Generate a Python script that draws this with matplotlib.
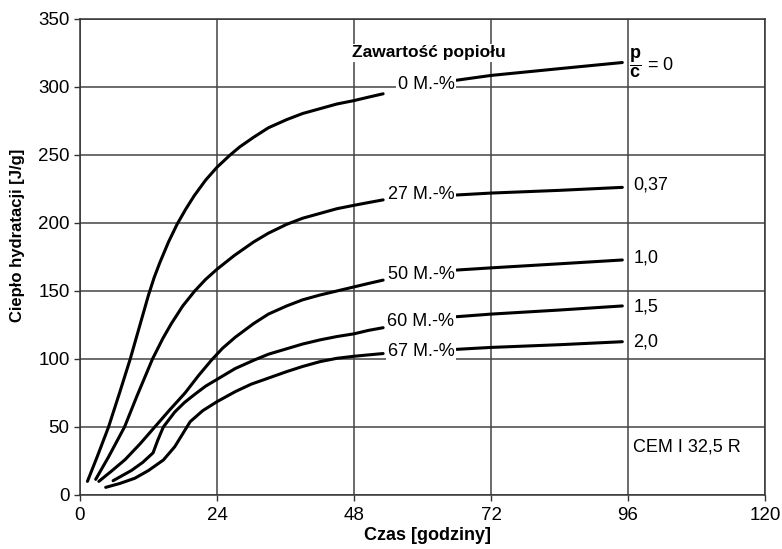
import matplotlib
matplotlib.use("Agg")
import matplotlib.pyplot as plt

plt.rcParams['font.family'] = ['Liberation Sans', 'DejaVu Sans']
plt.rcParams['mathtext.fontset'] = 'custom'
plt.rcParams['mathtext.rm'] = 'Liberation Sans'
plt.rcParams['mathtext.bf'] = 'Liberation Sans:bold'

# early part of each curve (czas [h], ciepło [J/g])
t_0 = [1.3, 3, 5, 7, 8.8, 10.5, 12, 13, 14, 15.5, 17, 18.5, 20, 22, 24, 26.3, 28,
       30.4, 33, 36.2, 39, 42, 45, 48, 50.5, 53.1]
q_0 = [10, 28, 50, 76, 100, 125, 147, 160, 171, 186, 199, 210, 220, 231.5, 241, 250, 256,
       263, 270, 276, 280.5, 284, 287.5, 290, 292.5, 295]

t_27 = [2.75, 5, 7.8, 10, 12.7, 14.5, 16, 18, 20.1, 22, 24, 27, 30.4, 33, 36.2, 39,
        42, 45, 48, 50.5, 53.1]
q_27 = [11.5, 28, 50, 73, 100, 115, 126, 139, 150, 158.5, 166, 176, 186, 192.5, 199,
        203.5, 207, 210.5, 213, 215, 217]

t_50 = [3.3, 5.5, 7.9, 10.5, 13.1, 15.7, 18.4, 20.8, 23.1, 25, 27.2, 30.4, 33, 36.2,
        39, 42, 45, 48, 50.5, 53.1]
q_50 = [10, 17.5, 26, 37.5, 50, 62.5, 75, 88, 99.5, 108, 116, 126, 133, 139,
        143.5, 147, 150, 153, 155.5, 158]

t_60 = [5.8, 9, 11, 12.8, 13.6, 14.6, 16.6, 18.3, 20.1, 22, 24, 27.2, 30.4, 33, 36.2,
        39, 42, 45, 48, 50.5, 53.1]
q_60 = [10.5, 18, 24, 31, 40, 50, 61, 68, 74, 80, 85, 93, 99, 103.5, 107.5,
        111, 114, 116.5, 118.5, 121, 123]

t_67 = [4.5, 7, 9.6, 12, 14.6, 16.6, 19.3, 21.5, 24, 27.2, 30, 32.1, 36.2, 39, 42,
        45, 48, 50.5, 53.1]
q_67 = [5.6, 8.5, 12.3, 18, 25.7, 35.5, 53.9, 62, 68.6, 76, 81.5, 84.6, 90.7, 94.5, 98,
        100.5, 102, 103, 104]

# late part (after the label)
t_late = [66, 72, 84, 95]
q_late_0 = [305, 308.5, 313.5, 318]
q_late_27 = [220.6, 222, 224, 226.2]
q_late_50 = [165.4, 167, 170, 172.8]
q_late_60 = [131.1, 133, 136, 139]
q_late_67 = [107.1, 108.5, 110.5, 112.7]

ash_labels = ['0 M.-%', '27 M.-%', '50 M.-%', '60 M.-%', '67 M.-%']
ash_label_y = [301.5, 220.6, 162, 127.5, 105.5]
pc_labels = ['0,37', '1,0', '1,5', '2,0']
pc_label_y = [228, 174, 138.5, 112.7]

x_ticks = [0, 24, 48, 72, 96, 120]
y_ticks = [0, 50, 100, 150, 200, 250, 300, 350]

fig = plt.figure(figsize=(7.82, 5.49), dpi=100)
ax = fig.add_axes([0.1023, 0.0984, 0.876, 0.867])

early = [(t_0, q_0), (t_27, q_27), (t_50, q_50), (t_60, q_60), (t_67, q_67)]
late = [q_late_0, q_late_27, q_late_50, q_late_60, q_late_67]
for (t, q), ql in zip(early, late):
    ax.plot(t, q, color='black', lw=2.2, solid_joinstyle='round',
            solid_capstyle='round', zorder=3)
    ax.plot(t_late, ql, color='black', lw=2.2, solid_joinstyle='round',
            solid_capstyle='round', zorder=3)

for lab, y in zip(ash_labels, ash_label_y):
    ax.text(65.6, y, lab, ha='right', va='center', fontsize=13, zorder=4,
            bbox=dict(facecolor='white', edgecolor='none', pad=1.0))

ax.text(47.7, 325, 'Zawartość popiołu', ha='left', va='center', fontsize=12.5,
        fontweight='bold', zorder=4,
        bbox=dict(facecolor='white', edgecolor='none', pad=1.0))
ax.text(96.2, 317.5, r'$\dfrac{\mathbf{p}}{\mathbf{c}}$' + ' = 0', ha='left',
        va='center', fontsize=13, zorder=4)

for lab, y in zip(pc_labels, pc_label_y):
    ax.text(96.9, y, lab, ha='left', va='center', fontsize=13, zorder=4)

ax.text(96.9, 35.5, 'CEM I 32,5 R', ha='left', va='center', fontsize=13, zorder=4)

ax.set_xlim(0, 120)
ax.set_ylim(0, 350)
ax.set_xticks(x_ticks)
ax.set_yticks(y_ticks)
ax.tick_params(labelsize=13.5, length=4, width=1, color='#333333')
ax.tick_params(axis='x', pad=5)
ax.grid(True, color='#444444', lw=1.1)
for s in ax.spines.values():
    s.set_color('#333333')
    s.set_linewidth(1.1)

ax.set_xlabel('Czas [godziny]', fontsize=13, fontweight='bold')
ax.xaxis.set_label_coords(0.507, -0.068)
ax.set_ylabel('Ciepło hydratacji [J/g]', fontsize=12, fontweight='bold')
ax.yaxis.set_label_coords(-0.080, 0.545)

fig.savefig('out.png', dpi=100)
